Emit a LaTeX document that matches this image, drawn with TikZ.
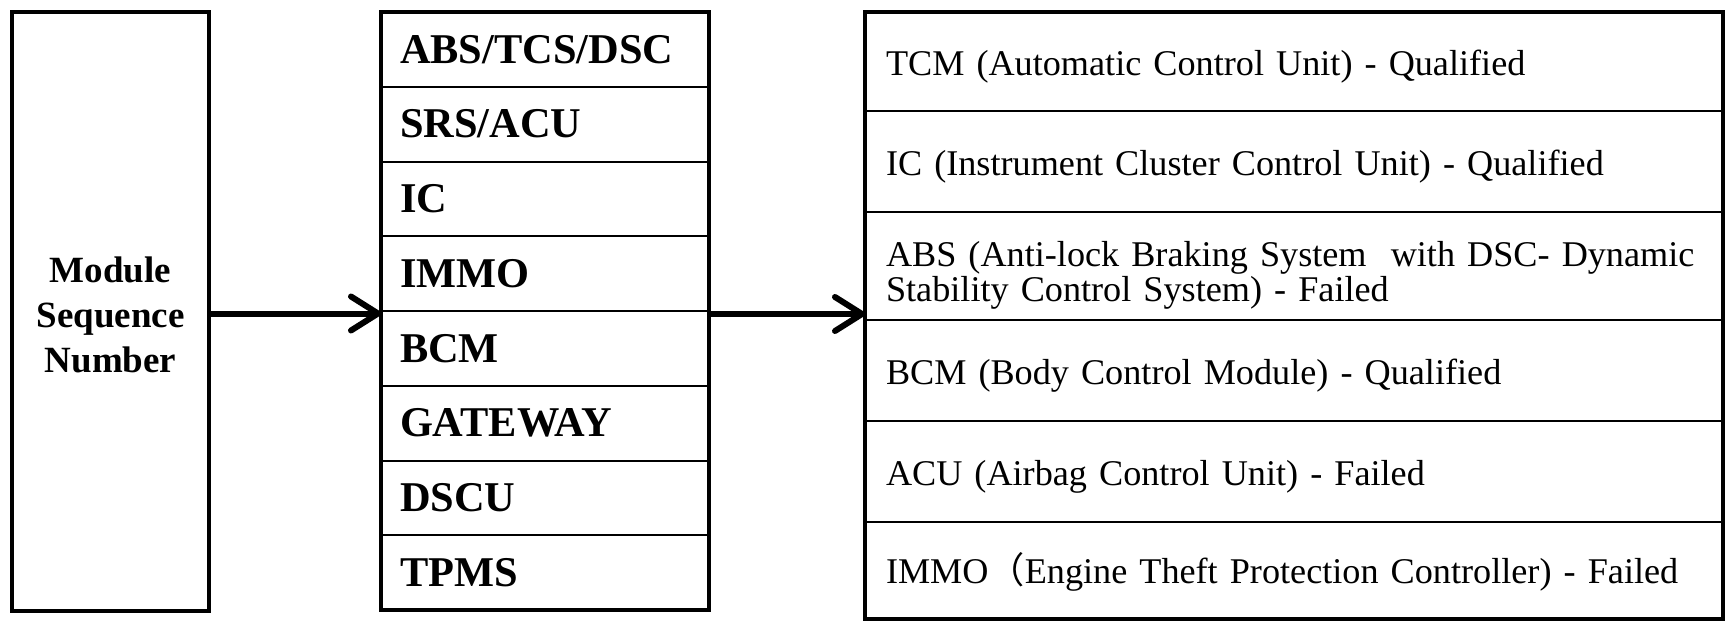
\documentclass[tikz,border=0pt]{standalone}
\usepackage{fontspec}
\setmainfont{Liberation Serif}
\newfontfamily\cjk{Noto Sans CJK SC}
\usetikzlibrary{arrows.meta}
\newcommand\rowstrut[1]{\rule{0pt}{#1}}
\tikzset{
  outerline/.style={line width=4.8pt},
  midcell/.style={draw, line width=2pt, anchor=north west, minimum width=328pt,
    inner sep=0pt, outer sep=0pt, text width=290pt, align=left,
    font=\fontsize{42.4}{46}\selectfont\bfseries},
  rcell/.style={draw, line width=2pt, anchor=north west, minimum width=858pt,
    inner sep=0pt, outer sep=0pt, text width=816pt, align=left,
    font=\fontsize{36.2}{35}\selectfont},
  lboxstyle/.style={draw, line width=4.8pt, anchor=north west, minimum width=197pt,
    minimum height=599pt, inner sep=0pt, outer sep=0pt, align=center,
    font=\fontsize{37}{45}\selectfont\bfseries},
  arr/.style={line width=6pt, -{Straight Barb[length=27pt,width=34pt,line width=6pt,round]}}
}
\begin{document}
\begin{tikzpicture}[x=1pt,y=-1pt]
\useasboundingbox[fill=white] (0,0) rectangle (1727,621);
% left box
\node[lboxstyle] (lbox) at (12,12) {\rowstrut{32pt}Module\\Sequence\\Number};
% middle table
\node[midcell, minimum height=74.75pt] (m1) at (381,12) {ABS/TCS/DSC};
\node[midcell, minimum height=74.75pt] (m2) at (m1.south west) {SRS/ACU};
\node[midcell, minimum height=74.75pt] (m3) at (m2.south west) {IC};
\node[midcell, minimum height=74.75pt] (m4) at (m3.south west) {IMMO};
\node[midcell, minimum height=74.75pt] (m5) at (m4.south west) {BCM};
\node[midcell, minimum height=74.75pt] (m6) at (m5.south west) {GATEWAY};
\node[midcell, minimum height=74.75pt] (m7) at (m6.south west) {DSCU};
\node[midcell, minimum height=74.75pt] (m8) at (m7.south west) {TPMS};
\draw[outerline] (m1.north west) rectangle (m8.south east);
% right table
\node[rcell, minimum height=99pt] (r1) at (865,12) {\rowstrut{35pt}TCM (Automatic Control Unit) - Qualified};
\node[rcell, minimum height=101pt] (r2) at (r1.south west) {\rowstrut{35pt}IC (Instrument Cluster Control Unit) - Qualified};
\node[rcell, minimum height=108pt] (r3) at (r2.south west) {\rowstrut{43pt}ABS (Anti-lock Braking System\ \ with DSC- Dynamic\\Stability Control System) - Failed};
\node[rcell, minimum height=101pt] (r4) at (r3.south west) {\rowstrut{35pt}BCM (Body Control Module) - Qualified};
\node[rcell, minimum height=101pt] (r5) at (r4.south west) {\rowstrut{35pt}ACU (Airbag Control Unit) - Failed};
\node[rcell, minimum height=97pt] (r6) at (r5.south west) {\rowstrut{33pt}IMMO{\cjk （}Engine Theft Protection Controller) - Failed};
\draw[outerline] (r1.north west) rectangle (r6.south east);
% connectors
\draw[arr] ([yshift=-2.5pt]lbox.east |- m4.south west) -- ([yshift=-2.5pt]m4.south west);
\draw[arr] ([yshift=-3pt]m4.south east) -- ([yshift=-3pt]m4.south east -| r3.west);
\end{tikzpicture}
\end{document}
